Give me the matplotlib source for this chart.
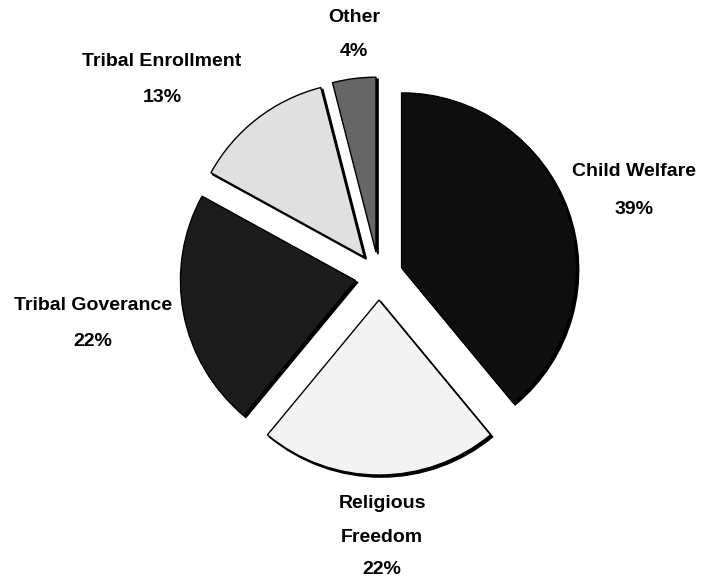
import matplotlib
matplotlib.use("Agg")
import matplotlib.pyplot as plt

categories = ["Child Welfare", "Religious Freedom", "Tribal Goverance", "Tribal Enrollment", "Other"]
values = [39, 22, 22, 13, 4]
label_lines = [["Child Welfare"], ["Religious", "Freedom"], ["Tribal Goverance"], ["Tribal Enrollment"], ["Other"]]

colors = ["#0e0e0e", "#f3f3f3", "#1c1c1c", "#e0e0e0", "#666666"]
# label anchor positions in pixel coords (x, y from top) of each text line
label_pos = [
    [(634, 172), (634, 209)],
    [(382, 504), (382, 538), (382, 570)],
    [(93, 306), (93, 342)],
    [(162, 61), (162, 97)],
    [(354, 18), (354, 52)],
]
family = ["Liberation Sans", "DejaVu Sans"]

W, H = 712, 580
fig = plt.figure(figsize=(W / 100, H / 100), dpi=100)
ax = fig.add_axes([0, 0, 1, 1])

cx, cy = 379, H - 276
R = 175
expl = [24] * len(values)

# shadow
ax.pie(values, explode=expl, startangle=90, counterclock=False,
       center=(cx + 2, cy - 2), radius=R, colors=["black"] * len(values),
       wedgeprops=dict(linewidth=1.2, edgecolor="black"), frame=True)
wedges, _ = ax.pie(values, explode=expl, startangle=90, counterclock=False,
                   center=(cx, cy), radius=R, colors=colors,
                   wedgeprops=dict(linewidth=1.0, edgecolor="black"), frame=True)
ax.set_xlim(0, W)
ax.set_ylim(0, H)
ax.set_aspect("equal")
ax.axis("off")

total = sum(values)
for lines, pos, v in zip(label_lines, label_pos, values):
    allines = lines + [f"{round(100 * v / total)}%"]
    for t, (lx, ly) in zip(allines, pos):
        ax.text(lx, H - ly, t, ha="center", va="center",
                fontsize=14, fontweight="bold", family=family, color="black")

fig.savefig("out.png", dpi=100)
